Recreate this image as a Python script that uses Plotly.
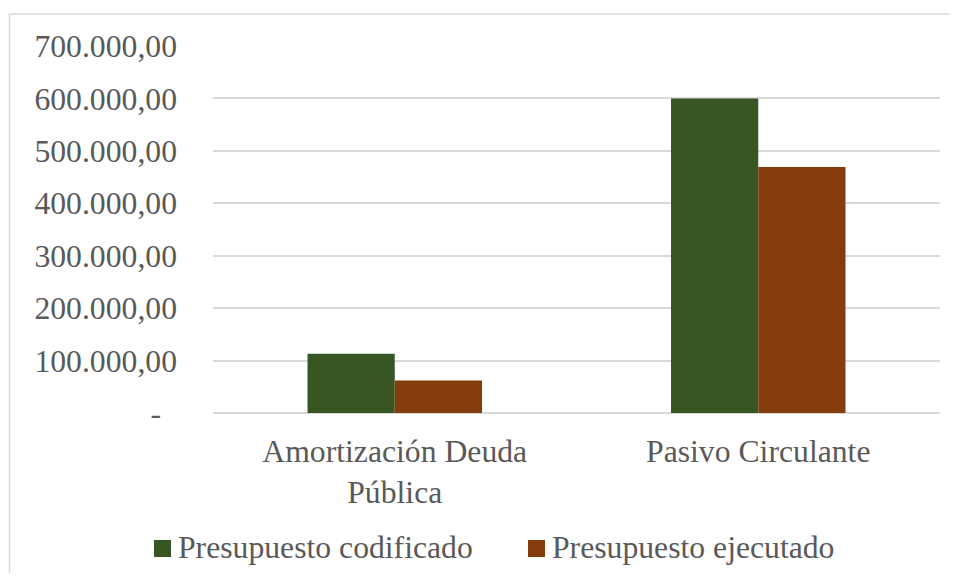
import plotly.graph_objects as go

categories = ["Amortización Deuda<br>Pública", "Pasivo Circulante"]
series_names = ["Presupuesto codificado", "Presupuesto ejecutado"]
codificado = [113000, 600000]
ejecutado = [62000, 469000]
tick_vals = [0, 100000, 200000, 300000, 400000, 500000, 600000, 700000]
tick_text = ["-\u00a0\u00a0", "100.000,00", "200.000,00", "300.000,00", "400.000,00",
             "500.000,00", "600.000,00", "700.000,00"]

FONT = "Liberation Serif"
GRAY = "#595959"
FS = 31.7
COLORS = ["#375623", "#843C0C"]

fig = go.Figure()
for name, vals, col in zip(series_names, [codificado, ejecutado], COLORS):
    fig.add_trace(go.Bar(x=categories, y=vals, name=name,
                         marker=dict(color=col, line=dict(width=0))))

OFF = 8  # page body margin
W, H = 942, 565
L, T = 213 - OFF, 46 - OFF
pw = 940 - 213
ph = 413 - 46
R = W - L - pw
B = H - T - ph

def px_x(x):
    return (x - OFF - L) / pw

def px_y(y):
    return 1 - (y - OFF - T) / ph

fig.update_layout(
    width=W, height=H,
    margin=dict(l=L, r=R, t=T, b=B),
    barmode="group", bargap=0.52, bargroupgap=0,
    plot_bgcolor="white", paper_bgcolor="white",
    font=dict(family=FONT, size=FS, color=GRAY),
    showlegend=False,
    xaxis=dict(showgrid=False, showline=False, ticks="", ticklabelstandoff=16,
               tickfont=dict(family=FONT, size=FS, color=GRAY)),
    yaxis=dict(range=[0, 700000], tickvals=tick_vals, ticktext=tick_text,
               showgrid=True, gridcolor="#D9D9D9", gridwidth=1.5,
               zeroline=True, zerolinecolor="#D9D9D9", zerolinewidth=1.5,
               showline=False, ticks="", ticklabelstandoff=35,
               tickfont=dict(family=FONT, size=FS, color=GRAY)),
)

# outer chart border
fig.add_shape(type="rect", xref="paper", yref="paper",
              x0=px_x(9.5), x1=px_x(1000),
              y0=px_y(640), y1=px_y(14),
              line=dict(color="#D9D9D9", width=1.5), layer="below")

# legend (drawn manually to match the large square keys)
legend_x = [154, 528]
for lx, name, col in zip(legend_x, series_names, COLORS):
    fig.add_shape(type="rect", xref="paper", yref="paper",
                  x0=px_x(lx), x1=px_x(lx + 17), y0=px_y(557), y1=px_y(540),
                  fillcolor=col, line=dict(width=0))
    fig.add_annotation(xref="paper", yref="paper", x=px_x(lx + 22), y=px_y(547),
                       xanchor="left", yanchor="middle", showarrow=False,
                       text=name, font=dict(family=FONT, size=FS, color=GRAY))

fig.write_html("out.html")
